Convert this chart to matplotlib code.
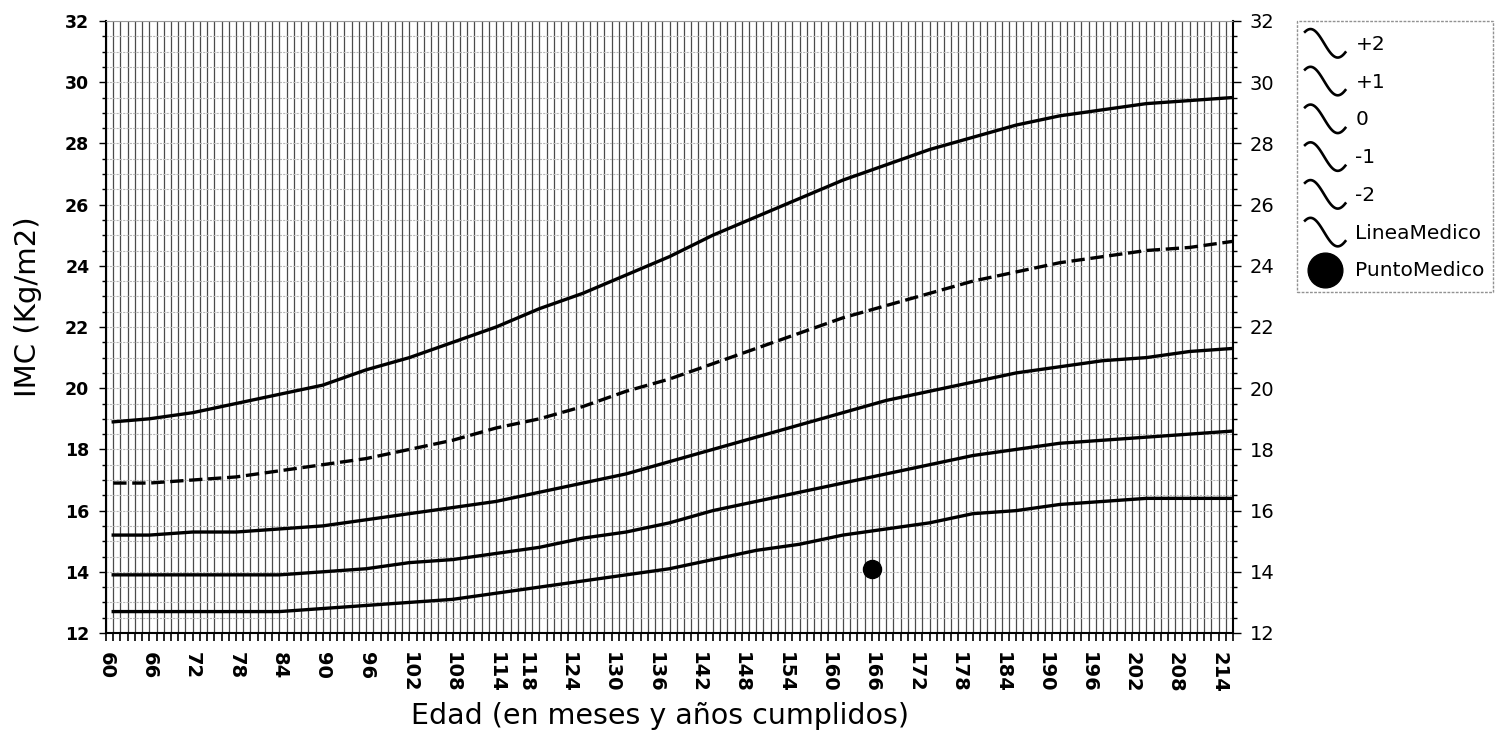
import numpy as np
import matplotlib
matplotlib.use("Agg")
import matplotlib.pyplot as plt
from matplotlib.lines import Line2D
from matplotlib.legend_handler import HandlerBase
from matplotlib.ticker import MultipleLocator, FixedLocator

# ---------------- data ----------------
months = [61, 66, 72, 78, 84, 90, 96, 102, 108, 114, 120, 126, 132, 138, 144,
          150, 156, 162, 168, 174, 180, 186, 192, 198, 204, 210, 216]
sd_p2 = [18.9, 19.0, 19.2, 19.5, 19.8, 20.1, 20.6, 21.0, 21.5, 22.0, 22.6, 23.1, 23.7, 24.3, 25.0,
         25.6, 26.2, 26.8, 27.3, 27.8, 28.2, 28.6, 28.9, 29.1, 29.3, 29.4, 29.5]
sd_p1 = [16.9, 16.9, 17.0, 17.1, 17.3, 17.5, 17.7, 18.0, 18.3, 18.7, 19.0, 19.4, 19.9, 20.3, 20.8,
         21.3, 21.8, 22.3, 22.7, 23.1, 23.5, 23.8, 24.1, 24.3, 24.5, 24.6, 24.8]
sd_0 = [15.2, 15.2, 15.3, 15.3, 15.4, 15.5, 15.7, 15.9, 16.1, 16.3, 16.6, 16.9, 17.2, 17.6, 18.0,
        18.4, 18.8, 19.2, 19.6, 19.9, 20.2, 20.5, 20.7, 20.9, 21.0, 21.2, 21.3]
sd_m1 = [13.9, 13.9, 13.9, 13.9, 13.9, 14.0, 14.1, 14.3, 14.4, 14.6, 14.8, 15.1, 15.3, 15.6, 16.0,
         16.3, 16.6, 16.9, 17.2, 17.5, 17.8, 18.0, 18.2, 18.3, 18.4, 18.5, 18.6]
sd_m2 = [12.7, 12.7, 12.7, 12.7, 12.7, 12.8, 12.9, 13.0, 13.1, 13.3, 13.5, 13.7, 13.9, 14.1, 14.4,
         14.7, 14.9, 15.2, 15.4, 15.6, 15.9, 16.0, 16.2, 16.3, 16.4, 16.4, 16.4]
punto_x = [166]
punto_y = [14.1]
linea_x = []
linea_y = []

x_tick_labels = [60, 66, 72, 78, 84, 90, 96, 102, 108, 114, 118, 124, 130, 136, 142,
                 148, 154, 160, 166, 172, 178, 184, 190, 196, 202, 208, 214]
y_ticks = [12, 14, 16, 18, 20, 22, 24, 26, 28, 30, 32]
legend_labels = ["+2", "+1", "0", "-1", "-2", "LineaMedico", "PuntoMedico"]

# ---------------- figure ----------------
plt.rcParams["font.family"] = ["DejaVu Sans"]
W, H = 1504, 756
fig = plt.figure(figsize=(W / 100, H / 100), dpi=100)
fig.patch.set_facecolor("white")
ax_l, ax_r, ax_t, ax_b = 106, 1233, 21, 633
ax = fig.add_axes([ax_l / W, 1 - ax_b / H, (ax_r - ax_l) / W, (ax_b - ax_t) / H])

ax.set_xlim(60, 216)
ax.set_ylim(12, 32)

# grid
ax.xaxis.set_major_locator(FixedLocator(x_tick_labels))
ax.xaxis.set_minor_locator(MultipleLocator(1))
ax.yaxis.set_major_locator(FixedLocator(y_ticks))
ax.yaxis.set_minor_locator(MultipleLocator(0.5))
ax.set_axisbelow(True)
ax.grid(which="both", axis="x", color="#4a4a4a", lw=0.9)
ax.grid(which="both", axis="y", color="#b8b8b8", lw=0.8, linestyle=(0, (2, 1)))

lw = 2.4
h_p2, = ax.plot(months, sd_p2, color="black", lw=lw)
h_p1, = ax.plot(months, sd_p1, color="black", lw=lw, linestyle=(0, (4.0, 1.7)))
h_0, = ax.plot(months, sd_0, color="black", lw=lw)
h_m1, = ax.plot(months, sd_m1, color="black", lw=lw)
h_m2, = ax.plot(months, sd_m2, color="black", lw=lw)
h_lm, = ax.plot(linea_x, linea_y, color="black", lw=lw)
ax.plot(punto_x, punto_y, "o", color="black", markersize=13, zorder=5)

# axes styling
ax.set_xticklabels([str(v) for v in x_tick_labels], rotation=270, fontsize=14,
                   fontweight="bold")
ax.set_yticklabels([str(v) for v in y_ticks], fontsize=12.5, fontweight="bold")
ax.tick_params(axis="x", which="both", direction="out", length=6, width=1.2, pad=8,
               colors="black")
ax.tick_params(axis="y", which="major", direction="out", length=5, width=1.0, pad=7)
ax.tick_params(axis="y", which="minor", direction="out", length=3, width=1.0)
for s in ["left", "bottom", "right"]:
    ax.spines[s].set_color("black")
    ax.spines[s].set_linewidth(1.5)
ax.spines["top"].set_color("#999999")
ax.spines["top"].set_linestyle((0, (2, 1)))

# right axis
ax2 = ax.twinx()
ax2.set_ylim(12, 32)
ax2.yaxis.set_major_locator(FixedLocator(y_ticks))
ax2.yaxis.set_minor_locator(MultipleLocator(0.5))
ax2.set_yticklabels([str(v) for v in y_ticks], fontsize=14)
ax2.tick_params(axis="y", which="major", direction="out", length=6, width=1.0, pad=6)
ax2.tick_params(axis="y", which="minor", direction="out", length=3, width=1.0)
for s in ax2.spines.values():
    s.set_visible(False)

# labels
fig.text(28 / W, 1 - 307 / H, "IMC (Kg/m2)", rotation=90, ha="center", va="center",
         fontsize=21)
fig.text(660 / W, 1 - 716 / H, "Edad (en meses y años cumplidos)", ha="center",
         va="center", fontsize=20.5)


# legend with wave handles
class WaveHandler(HandlerBase):
    def create_artists(self, legend, orig_handle, xdescent, ydescent, width, height,
                       fontsize, trans):
        t = np.linspace(0.3 * np.pi, 1.78 * np.pi, 60)
        xs = (t - t[0]) / (t[-1] - t[0]) * width - xdescent
        ys = (np.sin(t) * 0.5 + 0.5) * height * 1.0 - ydescent
        line = Line2D(xs, ys, color="black", lw=1.9, transform=trans)
        return [line]


class DotHandler(HandlerBase):
    def create_artists(self, legend, orig_handle, xdescent, ydescent, width, height,
                       fontsize, trans):
        m = Line2D([width / 2 - xdescent], [height / 2 - ydescent], marker="o",
                   color="black", markersize=25, linestyle="none", transform=trans)
        return [m]


dot_proxy = Line2D([], [], marker="o", color="black", linestyle="none")
wave_handles = [h_p2, h_p1, h_0, h_m1, h_m2, h_lm]
hmap = {h: WaveHandler() for h in wave_handles}
hmap[dot_proxy] = DotHandler()
leg = fig.legend(wave_handles + [dot_proxy], legend_labels, loc="upper left",
                 bbox_to_anchor=(1297 / W, 1 - 21 / H), bbox_transform=fig.transFigure,
                 fontsize=14.5, handler_map=hmap, handlelength=2.0, handleheight=1.8,
                 handletextpad=0.5, labelspacing=0.46, borderpad=0.4, borderaxespad=0,
                 frameon=True, fancybox=False, edgecolor="#777777")
leg.get_frame().set_linewidth(1.0)
leg.get_frame().set_linestyle((0, (2, 1)))

fig.savefig("out.png", dpi=100, facecolor="white")
